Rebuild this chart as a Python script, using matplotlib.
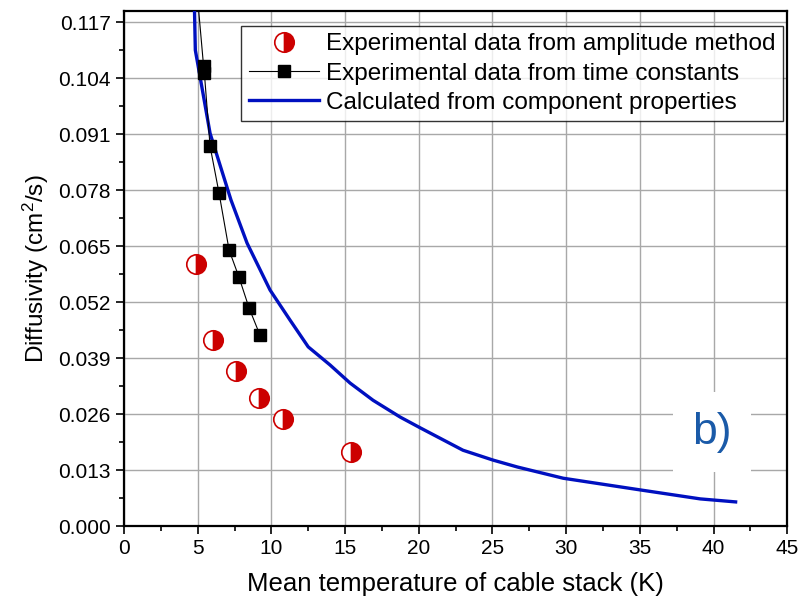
import matplotlib
matplotlib.use("Agg")
import matplotlib.pyplot as plt
import numpy as np

plt.rcParams['font.family'] = ['Liberation Sans', 'DejaVu Sans']
plt.rcParams['mathtext.fontset'] = 'custom'
plt.rcParams['mathtext.rm'] = 'Liberation Sans'
plt.rcParams['mathtext.it'] = 'Liberation Sans:italic'

# amplitude method (half filled circles)
amp_T = [4.9, 6.05, 7.6, 9.15, 10.8, 15.4]
amp_D = [0.0608, 0.0432, 0.0360, 0.0297, 0.0248, 0.0172]

# time constants (squares + thin line)
tc_T = [4.8, 5.4, 5.45, 5.84, 6.45, 7.13, 7.8, 8.49, 9.23]
tc_D = [0.130, 0.1068, 0.1053, 0.0882, 0.0773, 0.0641, 0.0578, 0.0506, 0.0443]

# calculated from component properties
calc_T = [4.72, 4.84, 5.84, 7.26, 8.35, 9.91, 11.27, 12.5, 13.98, 15.34, 16.9,
          18.74, 20.1, 23.0, 25.05, 26.7, 29.8, 35.0, 39.1, 41.5]
calc_D = [0.130, 0.1105, 0.0912, 0.0757, 0.0657, 0.0548, 0.0478, 0.0416, 0.0374,
          0.0332, 0.0292, 0.0253, 0.0228, 0.0176, 0.0153, 0.0137, 0.0111, 0.0084,
          0.0063, 0.0056]

xticks = np.arange(0, 46, 5)
yticks = np.arange(0, 0.118, 0.013)

fig = plt.figure(figsize=(8, 6.07), dpi=100)
ax = fig.add_axes([0.155, 0.1334, 0.829, 0.8485])

ax.plot(amp_T, amp_D, linestyle='none', marker='o', markersize=14,
        fillstyle='right', markerfacecolor='#cc0000', markerfacecoloralt='white',
        markeredgecolor='#cc0000', markeredgewidth=1.2,
        label='Experimental data from amplitude method', zorder=4)
ax.plot(tc_T, tc_D, color='black', linewidth=0.8, marker='s', markersize=8.5,
        markerfacecolor='black', markeredgecolor='black',
        label='Experimental data from time constants', zorder=4)
ax.plot(calc_T, calc_D, color='#0010c0', linewidth=2.4,
        label='Calculated from component properties', zorder=3)

ax.set_xlim(0, 45)
ax.set_ylim(0, 0.1196)
ax.set_xticks(xticks)
ax.set_yticks(yticks)
ax.set_yticklabels(['%.3f' % v for v in yticks])
ax.set_xticks(np.arange(2.5, 45, 5), minor=True)
ax.set_yticks(np.arange(0.0065, 0.1196, 0.013), minor=True)
ax.tick_params(which='major', direction='out', length=6, width=1.2, labelsize=15)
ax.tick_params(which='minor', direction='out', length=3.5, width=1.2)
ax.grid(True, which='major', color='#a8a8a8', linewidth=1.0)
ax.set_axisbelow(True)
for s in ax.spines.values():
    s.set_linewidth(1.6)

ax.set_xlabel('Mean temperature of cable stack (K)', fontsize=18.5, labelpad=10)
ax.set_ylabel(r'Diffusivity (cm$^2$/s)', fontsize=17.5, labelpad=5)

leg = ax.legend(loc='upper right', bbox_to_anchor=(0.994, 0.971), fontsize=17.5,
                frameon=True, fancybox=False, borderaxespad=0, handlelength=2.9,
                handletextpad=0.3, borderpad=0.3, labelspacing=0.3)
leg.get_frame().set_edgecolor('black')
leg.get_frame().set_linewidth(1.0)

ax.text(39.9, 0.0218, 'b)', fontsize=32, color='#1a5aa8', ha='center', va='center',
        bbox=dict(facecolor='white', edgecolor='none', pad=14), zorder=5)

fig.savefig('out.png', dpi=100)
